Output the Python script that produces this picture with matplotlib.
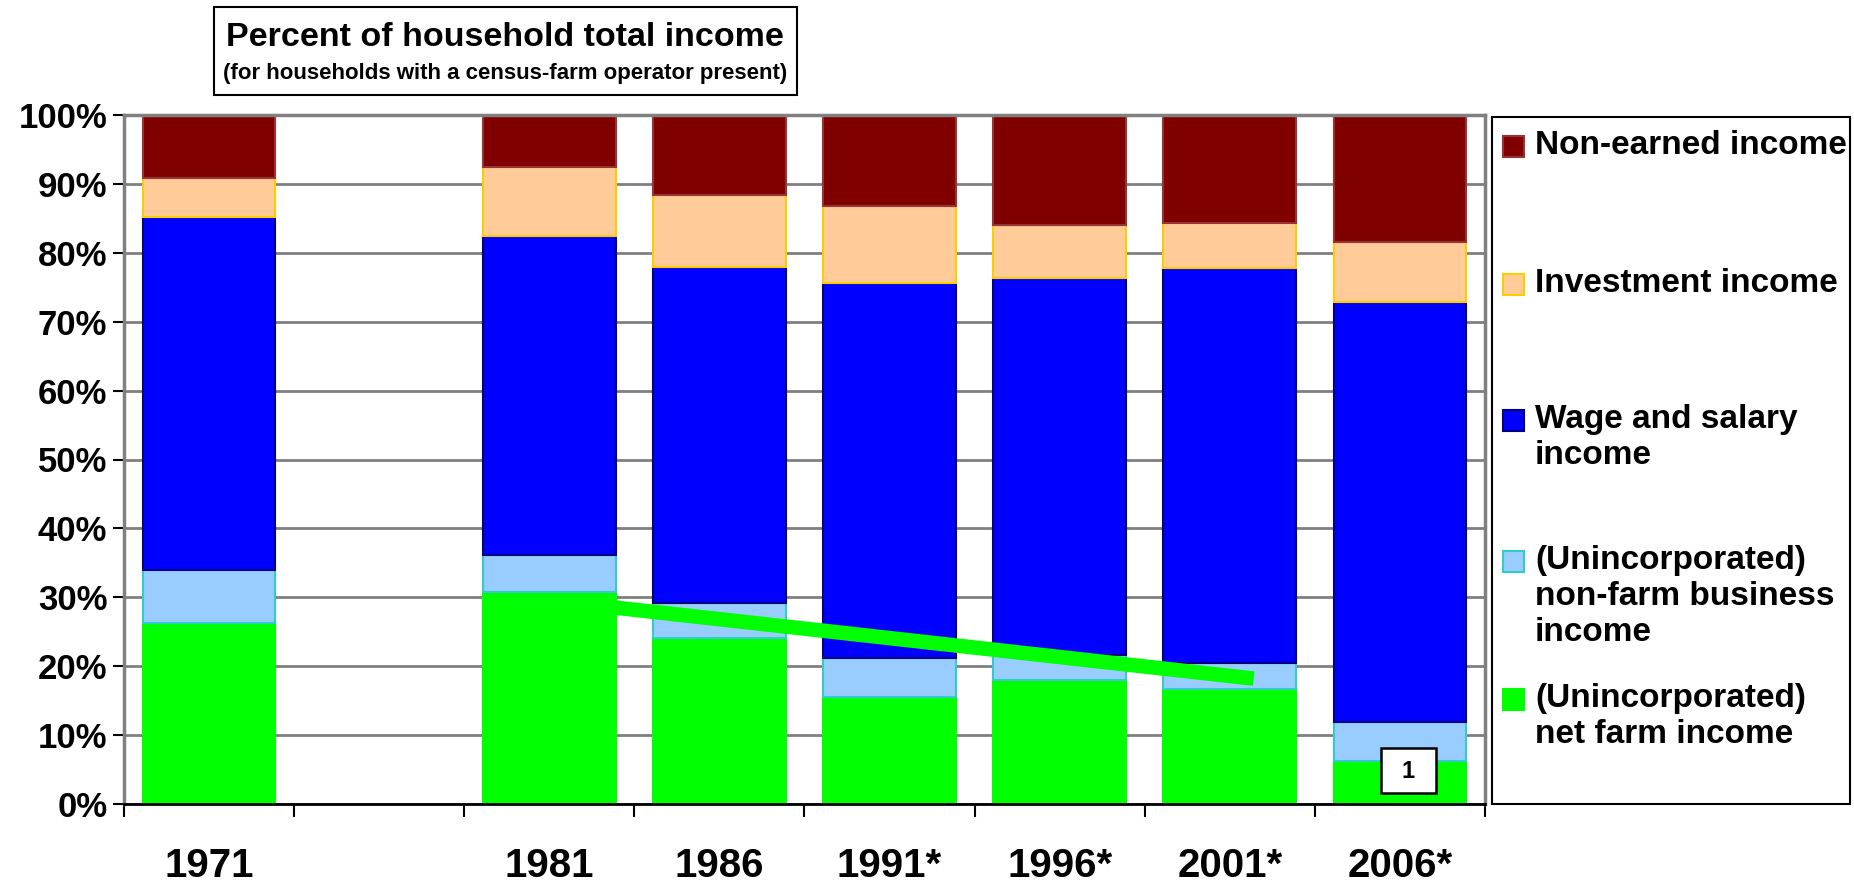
import numpy as np
import matplotlib.pyplot as plt
from matplotlib.patches import Rectangle

plt.rcParams['font.family'] = ['Liberation Sans', 'DejaVu Sans']
plt.rcParams['font.weight'] = 'bold'

# Data (percent of household total income)
years = ['1971', '', '1981', '1986', '1991*', '1996*', '2001*', '2006*']
net_farm = [26.2, np.nan, 30.7, 24.1, 15.5, 18.0, 16.7, 6.3]
non_farm_business = [7.8, np.nan, 5.5, 5.1, 5.7, 3.6, 3.7, 5.6]
wages = [51.2, np.nan, 46.3, 48.7, 54.4, 54.8, 57.4, 61.0]
investment = [5.6, np.nan, 10.0, 10.5, 11.2, 7.6, 6.5, 8.6]
non_earned = [9.2, np.nan, 7.5, 11.6, 13.2, 16.0, 15.7, 18.5]

# green trend line drawn over the bars
trend_x = [2.39, 6.14]
trend_y = [28.5, 18.2]

series = [
    (net_farm, '#00FF00', '#00FF00', '(Unincorporated)\nnet farm income'),
    (non_farm_business, '#99CCFF', '#33CCCC', '(Unincorporated)\nnon-farm business\nincome'),
    (wages, '#0000FF', '#000080', 'Wage and salary\nincome'),
    (investment, '#FFCC99', '#FFCC00', 'Investment income'),
    (non_earned, '#800000', '#993333', 'Non-earned income'),
]

W, H = 1854, 881
fig = plt.figure(figsize=(W / 100, H / 100), dpi=100)


def fx(px):
    return px / W


def fy(py):
    return 1 - py / H


ax = fig.add_axes([fx(124), fy(804), fx(1485) - fx(124), fy(115) - fy(804)])

x = np.arange(len(years))
bottom = np.zeros(len(years))
for vals, fc, ec, lab in series:
    v = np.array(vals, dtype=float)
    ax.bar(x, v, bottom=bottom, width=0.78, color=fc, edgecolor=ec,
           linewidth=1.5, zorder=2)
    bottom = bottom + np.nan_to_num(v)

ax.plot(trend_x, trend_y, color='#00FF00', lw=10.5, solid_capstyle='butt',
        zorder=3)

# small "1" note box on the 2006 bar
ax.add_patch(Rectangle((6.89, 1.6), 0.32, 6.5, facecolor='white',
                       edgecolor='black', lw=1.8, zorder=4))
ax.text(7.05, 4.7, '1', ha='center', va='center', fontsize=17,
        fontweight='bold', zorder=5)

ax.set_xlim(-0.5, len(years) - 0.5)
ax.set_ylim(0, 100)
ax.set_yticks(np.arange(0, 101, 10))
ax.set_yticklabels([f'{v}%' for v in range(0, 101, 10)], fontsize=25,
                   fontweight='bold')
ax.tick_params(axis='y', direction='out', length=8, width=1.5, pad=4,
               color='black')

ax.set_xticks(np.arange(-0.5, len(years)), minor=False)
ax.set_xticklabels([])
ax.set_xticks(x, minor=True)
ax.set_xticklabels(years, minor=True, fontsize=29, fontweight='bold')
ax.tick_params(axis='x', which='major', direction='out', length=9.5, width=1.5)
ax.tick_params(axis='x', which='minor', length=0, pad=31)

ax.yaxis.grid(True, color='#808080', lw=2)
ax.set_axisbelow(True)
for side in ['left', 'top', 'right']:
    ax.spines[side].set_color('#808080')
    ax.spines[side].set_linewidth(2.5)
ax.spines['bottom'].set_color('black')
ax.spines['bottom'].set_linewidth(2)

# title box
fig.add_artist(Rectangle((fx(214), fy(95)), fx(797) - fx(214), fy(7) - fy(95),
                         transform=fig.transFigure, facecolor='white',
                         edgecolor='black', lw=1.5))
fig.text(fx(505), fy(37), 'Percent of household total income', ha='center',
         va='center', fontsize=24.5, fontweight='bold')
fig.text(fx(505), fy(73), '(for households with a census-farm operator present)',
         ha='center', va='center', fontsize=16, fontweight='bold')

# legend box
fig.add_artist(Rectangle((fx(1492), fy(804)), fx(1850) - fx(1492), fy(117) - fy(804),
                         transform=fig.transFigure, facecolor='white',
                         edgecolor='black', lw=1.5))
legend_tops = [136, 274, 410, 551, 689]
for (vals, fc, ec, lab), top in zip(series[::-1], legend_tops):
    fig.add_artist(Rectangle((fx(1503), fy(top + 21)), fx(21), 21 / H,
                             transform=fig.transFigure, facecolor=fc,
                             edgecolor=ec, lw=1.5))
    fig.text(fx(1535), fy(top - 6), lab, ha='left', va='top', fontsize=24,
             fontweight='bold', linespacing=1.2)

fig.savefig('out.png', dpi=100)
